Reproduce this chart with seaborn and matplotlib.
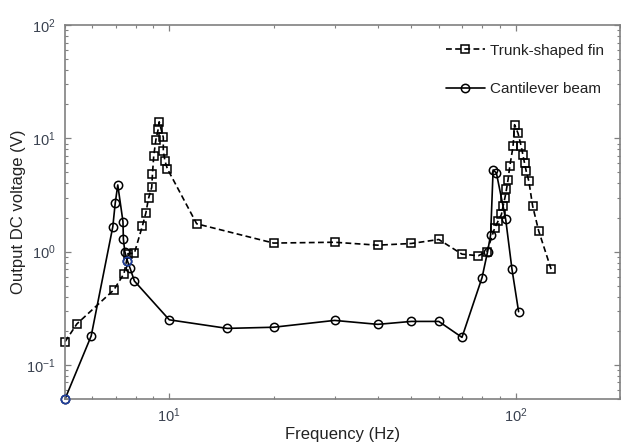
"""Output DC voltage vs frequency for the two harvesters."""
import numpy as np
import pandas as pd
import seaborn as sns
import matplotlib
matplotlib.use("Agg")
import matplotlib.pyplot as plt
from matplotlib.ticker import LogLocator, LogFormatterSciNotation, NullFormatter

# trunk-shaped fin (squares, dashed)
fin_freq = [5, 5.41, 6.92, 7.4, 7.6, 7.93, 8.36, 8.56, 8.71, 8.9, 8.94, 9.02,
            9.15, 9.3, 9.35, 9.61, 9.61, 9.72, 9.87, 12, 20, 30, 40, 50, 60,
            70, 78, 82.6, 87.1, 89.0, 91.0, 92.0, 93.1, 94.1, 95.1, 96.2,
            98.3, 99.3, 101.6, 103.8, 104.9, 106.1, 107.3, 109.2, 112, 116.6,
            126.6]
fin_volt = [0.16, 0.23, 0.46, 0.64, 0.96, 0.97, 1.68, 2.2, 2.95, 3.7, 4.8,
            7.05, 9.75, 12.2, 14.0, 10.2, 7.7, 6.3, 5.4, 1.76, 1.19, 1.21,
            1.14, 1.18, 1.28, 0.95, 0.92, 1.0, 1.63, 1.86, 2.13, 2.52, 2.97,
            3.54, 4.33, 5.67, 8.5, 13.2, 11.1, 8.5, 7.2, 6.06, 5.13, 4.18,
            2.52, 1.52, 0.70]

# cantilever beam (circles, solid)
beam_freq = [5, 5.95, 6.87, 6.98, 7.1, 7.35, 7.37, 7.44, 7.57, 7.71, 7.93, 10,
             14.7, 20, 30, 40, 50, 60, 70, 80, 83, 84.7, 86.1, 88, 93.6, 97.6,
             102]
beam_volt = [0.05, 0.18, 1.66, 2.67, 3.88, 1.84, 1.29, 1.0, 0.83, 0.71, 0.55,
             0.25, 0.21, 0.215, 0.247, 0.228, 0.242, 0.242, 0.175, 0.59, 1.0,
             1.41, 5.26, 4.95, 1.93, 0.70, 0.295]

# two beam points drawn with a blue edge in the original
blue_idx = [0, 8]

labels = ["Trunk-shaped fin", "Cantilever beam"]

df = pd.concat([
    pd.DataFrame({"freq": fin_freq, "volt": fin_volt, "group": labels[0]}),
    pd.DataFrame({"freq": beam_freq, "volt": beam_volt, "group": labels[1]}),
])

sns.set_style("ticks")
plt.rcParams["font.family"] = ["Liberation Sans", "DejaVu Sans"]
plt.rcParams["mathtext.fontset"] = "custom"
plt.rcParams["mathtext.rm"] = "Liberation Sans"
plt.rcParams["mathtext.it"] = "Liberation Sans"
plt.rcParams["axes.unicode_minus"] = False

fig = plt.figure(figsize=(6.21, 4.48), dpi=100)
ax = fig.add_axes([0.1047, 0.1094, 0.8935, 0.8346])

sns.lineplot(data=df[df.group == labels[0]], x="freq", y="volt", ax=ax,
             sort=False, estimator=None, color="black", linewidth=1.2,
             linestyle=(0, (3.5, 2.0)), marker="s", markersize=6.3,
             markerfacecolor="none", markeredgecolor="black",
             markeredgewidth=1.1, label=labels[0], clip_on=False)
sns.lineplot(data=df[df.group == labels[1]], x="freq", y="volt", ax=ax,
             sort=False, estimator=None, color="black", linewidth=1.2,
             marker="o", markersize=6.0, markerfacecolor="none",
             markeredgecolor="black", markeredgewidth=1.1, label=labels[1],
             clip_on=False)

bx = [beam_freq[i] for i in blue_idx]
by = [beam_volt[i] for i in blue_idx]
ax.plot(bx, by, linestyle="none", marker="o", markersize=6.0,
        markerfacecolor="none", markeredgecolor="#1f3f9f", markeredgewidth=1.2,
        clip_on=False, zorder=5)

ax.set_xscale("log")
ax.set_yscale("log")
ax.set_xlim(5, 200)
ax.set_ylim(0.05, 100)

for axis in (ax.xaxis, ax.yaxis):
    axis.set_major_locator(LogLocator(base=10))
    axis.set_minor_locator(LogLocator(base=10, subs=np.arange(2, 10)))
    axis.set_major_formatter(LogFormatterSciNotation())
    axis.set_minor_formatter(NullFormatter())

grey = "#808080"
ax.tick_params(which="both", direction="in", top=True, right=True,
               color=grey, labelcolor="#3a4250", labelsize=10.5)
ax.tick_params(which="major", length=4, width=0.9)
ax.tick_params(which="minor", length=2.2, width=0.8)
ax.tick_params(axis="y", pad=7)
ax.tick_params(axis="x", pad=5)
for sp in ax.spines.values():
    sp.set_visible(True)
    sp.set_color(grey)
    sp.set_linewidth(1.2)

ax.set_xlabel("Frequency (Hz)", fontsize=12, color="#222222", labelpad=2)
ax.set_ylabel("Output DC voltage (V)", fontsize=12, color="#222222", labelpad=0)

leg = ax.legend(loc="upper right", frameon=False, fontsize=11,
                handlelength=2.6, handletextpad=0.3, labelspacing=1.6,
                bbox_to_anchor=(0.996, 0.987))
for t in leg.get_texts():
    t.set_color("#222222")

fig.savefig("out.png", dpi=100)
